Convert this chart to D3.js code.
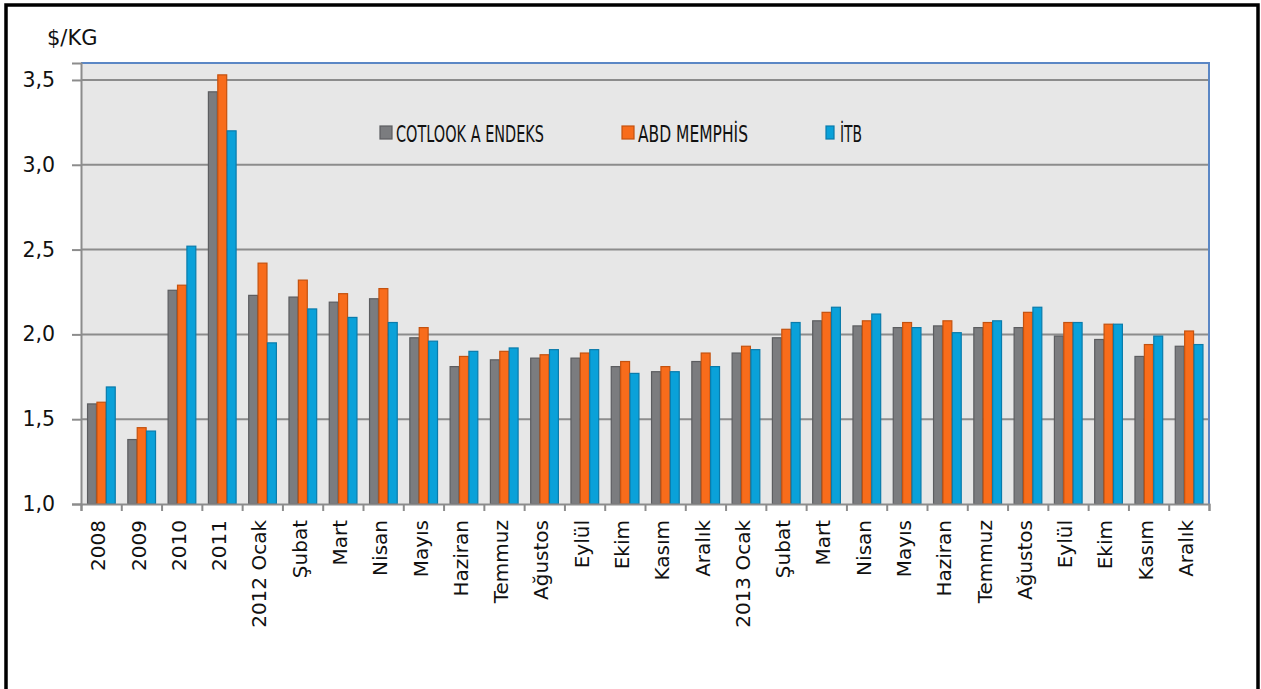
<!DOCTYPE html>
<html>
<head>
  <meta charset="utf-8">
  <script src="https://d3js.org/d3.v7.min.js"></script>
  <style>
    body { margin: 0; background: #ffffff; }
    svg { display: block; }
    .tick_label, .cat_label, .unit_label { font-family: "DejaVu Sans", sans-serif; fill: #111111; }
    .legend_label { font-family: "DejaVu Sans", sans-serif; fill: #111111; font-size: 23px; }
  </style>
</head>
<body>
  <svg></svg>
  <script>
    const categories = [
      "2008", "2009", "2010", "2011", "2012 Ocak", "Şubat", "Mart", "Nisan", "Mayıs",
      "Haziran", "Temmuz", "Ağustos", "Eylül", "Ekim", "Kasım", "Aralık",
      "2013 Ocak", "Şubat", "Mart", "Nisan", "Mayıs", "Haziran", "Temmuz",
      "Ağustos", "Eylül", "Ekim", "Kasım", "Aralık"
    ]

    const seriesNames = ["COTLOOK A ENDEKS", "ABD MEMPHİS", "İTB"]

    const cotlook = [1.59, 1.38, 2.26, 3.43, 2.23, 2.22, 2.19, 2.21, 1.98, 1.81, 1.85, 1.86, 1.86, 1.81,
      1.78, 1.84, 1.89, 1.98, 2.08, 2.05, 2.04, 2.05, 2.04, 2.04, 1.99, 1.97, 1.87, 1.93]
    const memphis = [1.60, 1.45, 2.29, 3.53, 2.42, 2.32, 2.24, 2.27, 2.04, 1.87, 1.90, 1.88, 1.89, 1.84,
      1.81, 1.89, 1.93, 2.03, 2.13, 2.08, 2.07, 2.08, 2.07, 2.13, 2.07, 2.06, 1.94, 2.02]
    const itb = [1.69, 1.43, 2.52, 3.20, 1.95, 2.15, 2.10, 2.07, 1.96, 1.90, 1.92, 1.91, 1.91, 1.77,
      1.78, 1.81, 1.91, 2.07, 2.16, 2.12, 2.04, 2.01, 2.08, 2.16, 2.07, 2.06, 1.99, 1.94]

    const yTicks = [1.0, 1.5, 2.0, 2.5, 3.0, 3.5]

    const fills = ["#7b7c7f", "#f86c1b", "#0aa1d9"]
    const strokes = ["#5c5d60", "#c4520f", "#0a7bab"]

    const width = 1261
    const height = 689
    const plotLeft = 81, plotRight = 1209, plotTop = 63, plotBottom = 504

    const svg = d3.select("svg").attr("width", width).attr("height", height)

    // outer frame
    svg.append("rect")
      .attr("x", 6).attr("y", 5)
      .attr("width", 1252).attr("height", 720)
      .attr("fill", "none")
      .attr("stroke", "#000000")
      .attr("stroke-width", 3.5)

    const x = d3.scaleBand()
      .domain(d3.range(categories.length))
      .range([plotLeft, plotRight])
      .paddingInner(0.3)
      .paddingOuter(0.15)

    const xEdge = d3.scaleLinear().domain([0, categories.length]).range([plotLeft, plotRight])

    const xSub = d3.scaleBand()
      .domain(d3.range(seriesNames.length))
      .range([0, x.bandwidth()])

    const y = d3.scaleLinear().domain([1, 3.6]).range([plotBottom, plotTop])

    // plot background
    svg.append("rect")
      .attr("x", plotLeft).attr("y", plotTop)
      .attr("width", plotRight - plotLeft).attr("height", plotBottom - plotTop)
      .attr("fill", "#e7e7e7")

    // gridlines
    svg.selectAll(".grid")
      .data(yTicks.slice(1))
      .enter()
      .append("line")
      .attr("class", "grid")
      .attr("x1", plotLeft).attr("x2", plotRight)
      .attr("y1", d => y(d)).attr("y2", d => y(d))
      .attr("stroke", "#8c8c8c")
      .attr("stroke-width", 2)

    // blue border top and right
    svg.append("path")
      .attr("d", `M${plotLeft},${plotTop}H${plotRight}V${plotBottom}`)
      .attr("fill", "none")
      .attr("stroke", "#5b87c5")
      .attr("stroke-width", 2)

    // bars
    const rows = categories.map((c, i) => [cotlook[i], memphis[i], itb[i]])

    const groups = svg.selectAll(".group")
      .data(rows)
      .enter()
      .append("g")
      .attr("class", "group")
      .attr("transform", (d, i) => `translate(${x(i)},0)`)

    groups.selectAll("rect")
      .data(d => d)
      .enter()
      .append("rect")
      .attr("x", (d, j) => xSub(j) + 0.5)
      .attr("y", d => y(d))
      .attr("width", xSub.bandwidth() - 0.5)
      .attr("height", d => plotBottom - y(d))
      .attr("fill", (d, j) => fills[j])
      .attr("stroke", (d, j) => strokes[j])
      .attr("stroke-width", 1.2)

    // y axis
    const yAxis = svg.append("g")
      .attr("transform", `translate(${plotLeft},0)`)
      .call(d3.axisLeft(y).tickValues(yTicks).tickSize(9).tickPadding(17)
        .tickFormat(d => d3.format(".1f")(d).replace(".", ",")))
    yAxis.select(".domain").attr("stroke", "#8c8c8c").attr("stroke-width", 2)
    yAxis.selectAll(".tick line").attr("stroke", "#8c8c8c").attr("stroke-width", 2)
    yAxis.selectAll(".tick text")
      .attr("class", "tick_label")
      .attr("fill", null)
      .style("font-size", "20.5px")
    yAxis.attr("font-family", null).attr("font-size", null)

    // x axis
    const xAxis = svg.append("g")
      .attr("transform", `translate(0,${plotBottom})`)
      .call(d3.axisBottom(xEdge).tickValues(d3.range(categories.length + 1)).tickSize(7).tickFormat(""))
    xAxis.select(".domain").attr("stroke", "#8c8c8c").attr("stroke-width", 2)
    xAxis.selectAll(".tick line").attr("stroke", "#8c8c8c").attr("stroke-width", 2)

    svg.selectAll(".cat_label")
      .data(categories)
      .enter()
      .append("text")
      .attr("class", "cat_label")
      .attr("transform", (d, i) => `translate(${x(i) + x.bandwidth() / 2 - 3},${plotBottom + 16}) rotate(-90)`)
      .attr("text-anchor", "end")
      .attr("dy", "0.36em")
      .style("font-size", "20px")
      .text(d => d)

    // unit label
    svg.append("text")
      .attr("class", "unit_label")
      .attr("x", 47).attr("y", 45)
      .style("font-size", "21px")
      .text("$/KG")

    // legend
    const legend = [
      {name: seriesNames[0], sx: 380, sw: 12, tx: 396, tl: 148},
      {name: seriesNames[1], sx: 622, sw: 12, tx: 638, tl: 110},
      {name: seriesNames[2], sx: 826, sw: 8, tx: 840, tl: 22}
    ]

    svg.selectAll(".legend_key")
      .data(legend)
      .enter()
      .append("rect")
      .attr("class", "legend_key")
      .attr("x", d => d.sx)
      .attr("y", 126)
      .attr("width", d => d.sw)
      .attr("height", 13)
      .attr("fill", (d, i) => fills[i])
      .attr("stroke", (d, i) => strokes[i])
      .attr("stroke-width", 1.2)

    svg.selectAll(".legend_label")
      .data(legend)
      .enter()
      .append("text")
      .attr("class", "legend_label")
      .attr("x", d => d.tx)
      .attr("y", 142)
      .attr("textLength", d => d.tl)
      .attr("lengthAdjust", "spacingAndGlyphs")
      .text(d => d.name)
  </script>
</body>
</html>
